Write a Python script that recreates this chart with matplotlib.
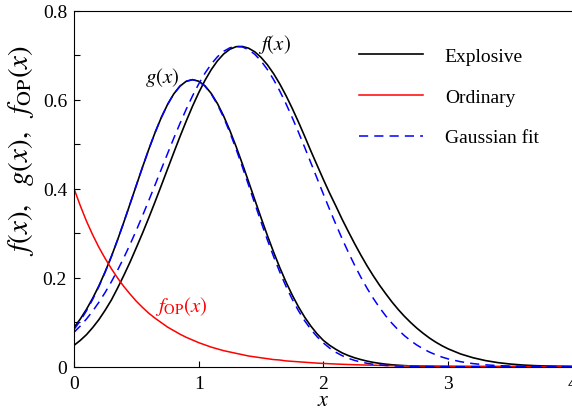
import numpy as np
import matplotlib
matplotlib.use("Agg")
import matplotlib.pyplot as plt

plt.rcParams['font.family'] = ['Liberation Serif', 'DejaVu Serif']
plt.rcParams['mathtext.fontset'] = 'stix'

# x grid: step 0.05 up to 3, then 0.1 up to 4
x = [round(0.05 * i, 2) for i in range(61)] + [round(3.0 + 0.1 * i, 1) for i in range(1, 11)]

# explosive distributions
f_expl = [0.048, 0.059, 0.072, 0.088, 0.106, 0.127, 0.150, 0.177, 0.2055, 0.2355,
          0.2677, 0.3005, 0.3349, 0.3706, 0.4071, 0.4441, 0.4810, 0.5172, 0.5520, 0.5851,
          0.6157, 0.6433, 0.6673, 0.6872, 0.7027, 0.7134, 0.7191, 0.7196, 0.7157, 0.7075,
          0.6950, 0.6787, 0.6587, 0.6354, 0.6092, 0.5805, 0.5498, 0.5175, 0.4843, 0.4523,
          0.4205, 0.3898, 0.3610, 0.3313, 0.3036, 0.2766, 0.2510, 0.2267, 0.2042, 0.1832,
          0.1639, 0.1454, 0.1285, 0.1131, 0.0992, 0.0864, 0.0750, 0.0645, 0.0553, 0.0472,
          0.0401,
          0.0286, 0.0201, 0.0137, 0.0091, 0.0059, 0.0037, 0.0023, 0.0014, 0.0009, 0.0005]
g_expl = [0.088, 0.107, 0.129, 0.154, 0.182, 0.2135, 0.2479, 0.2855, 0.3252, 0.3663,
          0.4078, 0.4490, 0.4888, 0.5261, 0.5599, 0.5892, 0.6130, 0.6305, 0.6414, 0.6450,
          0.6415, 0.6311, 0.6142, 0.5914, 0.5632, 0.5306, 0.4945, 0.4558, 0.4157, 0.3749,
          0.3346, 0.2953, 0.2579, 0.2227, 0.1903, 0.1609, 0.1345, 0.1112, 0.0910, 0.0736,
          0.0590, 0.048, 0.039, 0.031, 0.025, 0.020, 0.016, 0.0125, 0.0097, 0.0075,
          0.0057, 0.0043, 0.0032, 0.0024, 0.0017, 0.0012, 0.0009, 0.0006, 0.0004, 0.0003,
          0.0002,
          0.0001, 0, 0, 0, 0, 0, 0, 0, 0, 0]
# gaussian fits
f_fit = [0.0773, 0.0913, 0.1072, 0.1251, 0.1450, 0.1670, 0.1910, 0.2172, 0.2452, 0.2751,
         0.3067, 0.3397, 0.3738, 0.4085, 0.4437, 0.4788, 0.5134, 0.5468, 0.5786, 0.6083,
         0.6354, 0.6594, 0.6798, 0.6964, 0.7088, 0.7166, 0.7199, 0.7185, 0.7124, 0.7018,
         0.6870, 0.6680, 0.6454, 0.6195, 0.5908, 0.5597, 0.5269, 0.4927, 0.4578, 0.4226,
         0.3876, 0.3532, 0.3198, 0.2876, 0.2570, 0.2282, 0.2012, 0.1763, 0.1535, 0.1328,
         0.1141, 0.0974, 0.0827, 0.0696, 0.0583, 0.0485, 0.0401, 0.0329, 0.0269, 0.0217,
         0.0175,
         0.0112, 0.0069, 0.0042, 0.0024, 0.0014, 0.0008, 0.0004, 0.0002, 0.0001, 0]
g_fit = [0.0836, 0.1031, 0.1257, 0.1515, 0.1805, 0.2128, 0.2479, 0.2855, 0.3252, 0.3663,
         0.4078, 0.4490, 0.4888, 0.5261, 0.5599, 0.5892, 0.6130, 0.6305, 0.6414, 0.6450,
         0.6414, 0.6305, 0.6130, 0.5892, 0.5599, 0.5261, 0.4888, 0.4490, 0.4078, 0.3663,
         0.3252, 0.2855, 0.2479, 0.2128, 0.1805, 0.1515, 0.1257, 0.1031, 0.0836, 0.0671,
         0.0532, 0.0417, 0.0323, 0.0248, 0.0188, 0.0141, 0.0104, 0.0076, 0.0055, 0.0040,
         0.0028, 0.0019, 0.0013, 0.0009, 0.0006, 0.0004, 0.0003, 0.0002, 0.0001, 0.0001,
         0,
         0, 0, 0, 0, 0, 0, 0, 0, 0, 0]
# ordinary
f_op = [0.400, 0.362, 0.327, 0.296, 0.268, 0.243, 0.220, 0.199, 0.180, 0.163,
        0.147, 0.133, 0.120, 0.109, 0.099, 0.089, 0.081, 0.073, 0.066, 0.060,
        0.054, 0.049, 0.044, 0.040, 0.036, 0.033, 0.030, 0.027, 0.024, 0.022,
        0.020, 0.018, 0.016, 0.015, 0.013, 0.012, 0.011, 0.010, 0.009, 0.008,
        0.0073, 0.0066, 0.0060, 0.0054, 0.0049, 0.0044, 0.0040, 0.0036, 0.0033, 0.0030,
        0.0027, 0.0024, 0.0022, 0.0020, 0.0018, 0.0016, 0.0015, 0.0013, 0.0012, 0.0011,
        0.0010,
        0.0008, 0.0007, 0.0005, 0.0004, 0.0004, 0.0003, 0.0002, 0.0002, 0.0002, 0.0001]

fig = plt.figure(figsize=(5.72, 4.10), dpi=100)
ax = fig.add_axes([0.1294, 0.1032, 0.8720, 0.8683])

ax.plot(x, f_expl, color='black', lw=1.2, label='Explosive')
ax.plot(x, g_expl, color='black', lw=1.2)
ax.plot(x, f_op, color='red', lw=1.1, label='Ordinary')
ax.plot(x, f_fit, color='blue', lw=1.1, ls=(0, (6, 4)), label='Gaussian fit')
ax.plot(x, g_fit, color='blue', lw=1.1, ls=(0, (6, 4)))

ax.set_xlim(0, 4)
ax.set_ylim(0, 0.8)
ax.set_xticks([0, 1, 2, 3, 4])
ax.set_yticks([0, 0.2, 0.4, 0.6, 0.8])
ax.set_yticklabels(['0', '0.2', '0.4', '0.6', '0.8'])
ax.set_yticks(np.arange(0.1, 0.8, 0.2), minor=True)
ax.tick_params(which='both', direction='in', length=4, width=0.8, labelsize=14,
               top=False, right=False)
ax.tick_params(axis='x', pad=6)
ax.tick_params(axis='y', pad=5)

ax.set_xlabel(r'$x$', fontsize=16, labelpad=-1)
ax.set_ylabel(r'$f(x),\ \ g(x),\ \ f_{\rm OP}(x)$', fontsize=21)
ax.yaxis.set_label_coords(-0.076, 0.609)

ax.text(0.706, 0.651, r'$g(x)$', fontsize=15, ha='center', va='center')
ax.text(1.61, 0.727, r'$f(x)$', fontsize=15, ha='center', va='center')
ax.text(0.857, 0.138, r'$f_{\rm OP}(x)$', fontsize=15, ha='center', va='center', color='red')

ax.legend(loc='upper left', bbox_to_anchor=(0.572, 0.898), frameon=False,
          fontsize=14, handlelength=3.3, handletextpad=1.1, labelspacing=1.2,
          borderpad=0, borderaxespad=0)

fig.savefig('out.png', dpi=100)
